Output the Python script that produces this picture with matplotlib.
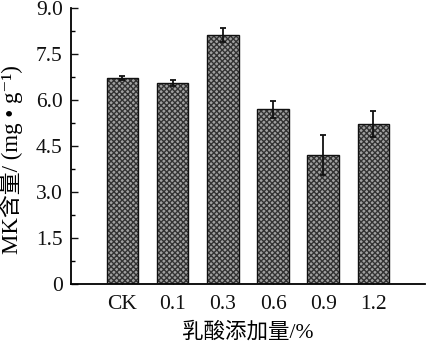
import matplotlib
matplotlib.use("Agg")
import matplotlib.pyplot as plt
from matplotlib.ticker import MultipleLocator, FixedLocator

categories = ["CK", "0.1", "0.3", "0.6", "0.9", "1.2"]
mk_content = [6.72, 6.55, 8.12, 5.70, 4.20, 5.22]
mk_error = [0.07, 0.10, 0.23, 0.27, 0.65, 0.42]
y_ticks = [0, 1.5, 3.0, 4.5, 6.0, 7.5, 9.0]
y_tick_labels = ["0", "1.5", "3.0", "4.5", "6.0", "7.5", "9.0"]

plt.rcParams["font.family"] = ["Liberation Serif", "Noto Sans CJK SC", "DejaVu Serif"]
plt.rcParams["hatch.color"] = "#333333"
plt.rcParams["hatch.linewidth"] = 1.0

fig = plt.figure(figsize=(4.26, 3.49), dpi=100)
ax = fig.add_axes([0.167, 0.186, 0.831, 0.791])

x = list(range(len(categories)))
ax.bar(x, mk_content, width=0.63, color="#a0a0a0", hatch="xxxxxx",
       edgecolor="#333333", linewidth=0, zorder=2)
ax.bar(x, mk_content, width=0.63, fill=False, edgecolor="#111111",
       linewidth=1.0, zorder=3)
ax.errorbar(x, mk_content, yerr=mk_error, fmt="none", ecolor="#111111",
            elinewidth=1.3, capsize=2.5, capthick=1.3, zorder=4)

ax.set_xlim(-1.02, 6.03)
ax.set_ylim(0, 9.0)
ax.set_xticks(x)
ax.set_xticklabels(categories)
ax.yaxis.set_major_locator(FixedLocator(y_ticks))
ax.set_yticklabels(y_tick_labels)
ax.yaxis.set_minor_locator(MultipleLocator(0.75))

for side in ("top", "right"):
    ax.spines[side].set_visible(False)
for side in ("left", "bottom"):
    ax.spines[side].set_linewidth(1.3)

ax.tick_params(axis="both", which="major", direction="in", labelsize=15.5,
               length=5, width=1.0, colors="#111111")
ax.tick_params(axis="y", which="minor", direction="in", length=3, width=1.0)
ax.tick_params(axis="x", which="major", length=3, pad=8)
ax.tick_params(axis="y", which="major", pad=6)

ax.set_xlabel("乳酸添加量/%", fontsize=15.5, labelpad=6)
ax.set_ylabel("MK含量/ (mg • g⁻¹)", fontsize=16.5, labelpad=3)
ax.yaxis.set_label_coords(-0.135, 0.45)

fig.savefig("out.png", dpi=100)
